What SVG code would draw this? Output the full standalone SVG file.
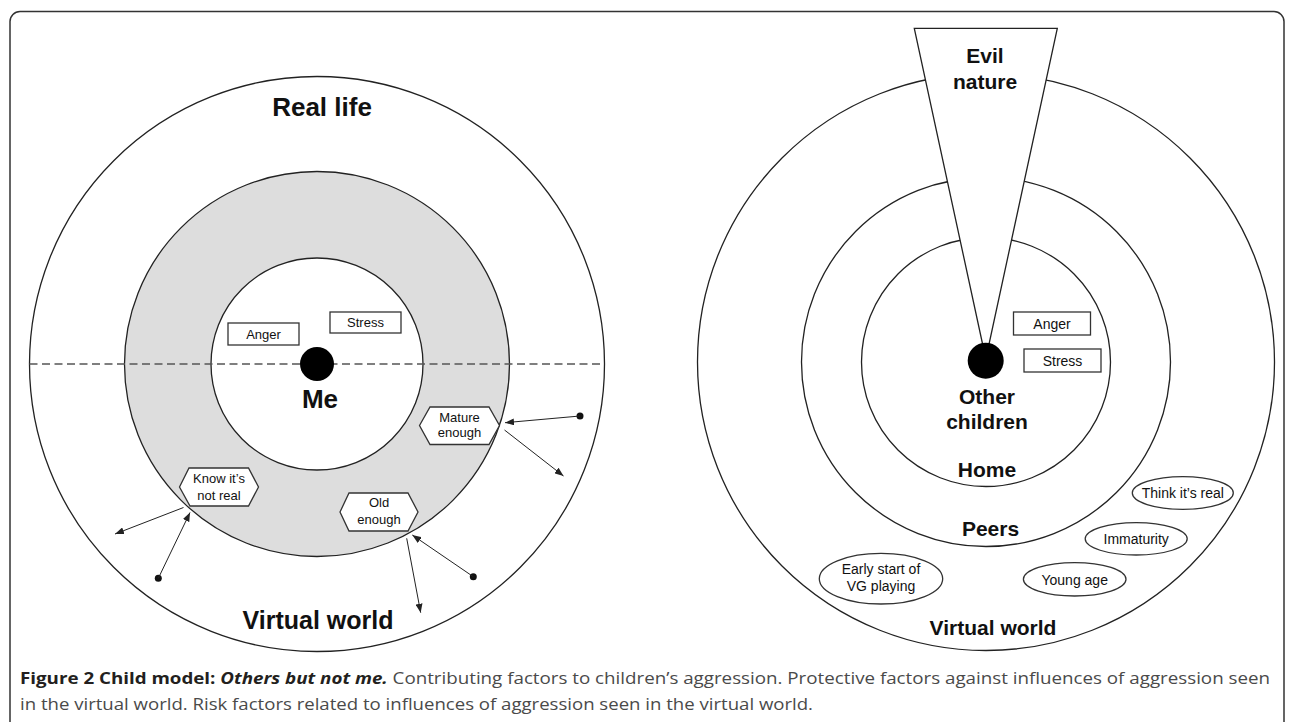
<svg xmlns="http://www.w3.org/2000/svg" width="1292" height="722" viewBox="0 0 1292 722">
<defs>
<style>
.ring{fill:none;stroke:#222;stroke-width:1.3}
.box{fill:#fff;stroke:#333;stroke-width:1.3}
.big{font-family:"Liberation Sans",Arial,sans-serif;font-weight:bold;fill:#111;text-anchor:middle}
.lbl{font-family:"Liberation Sans",Arial,sans-serif;fill:#111;text-anchor:middle}
.arr{stroke:#222;stroke-width:1;fill:none;marker-end:url(#ah)}
.cap{font-family:"Open Sans","Liberation Sans",sans-serif;font-size:16px;fill:#4a4a4a}
</style>
<marker id="ah" markerUnits="userSpaceOnUse" markerWidth="9" markerHeight="7" refX="9" refY="3.5" orient="auto">
<path d="M0,0 L9,3.5 L0,7 z" fill="#222"/>
</marker>
</defs>
<rect x="0" y="0" width="1292" height="722" fill="#fff"/>
<rect x="10" y="11.5" width="1274" height="730" rx="10" ry="10" fill="none" stroke="#333" stroke-width="1.5"/>

<g id="left-model">
<circle id="real-life-circle" class="ring" cx="317" cy="364" r="287.5"/>
<circle id="protective-ring" cx="317" cy="364" r="192.5" fill="#dddddd" stroke="#222" stroke-width="1.3"/>
<circle id="me-circle" cx="317" cy="364" r="106" fill="#fff" stroke="#222" stroke-width="1.3"/>
<line id="divider" x1="29.5" y1="364" x2="604.5" y2="364" stroke="#555" stroke-width="1.3" stroke-dasharray="8,4.5"/>
<circle id="me-dot" cx="317" cy="364" r="17" fill="#000"/>
<text class="big" x="322" y="115.5" font-size="26">Real life</text>
<text class="big" x="320" y="408" font-size="26">Me</text>
<text class="big" x="318" y="629" font-size="25">Virtual world</text>
</g>

<g id="left-anger">
<rect class="box" x="228" y="323" width="71" height="22"/>
<text class="lbl" x="263.5" y="338.5" font-size="13">Anger</text>
</g>
<g id="left-stress">
<rect class="box" x="330" y="312" width="71" height="21"/>
<text class="lbl" x="365.5" y="327" font-size="13">Stress</text>
</g>
<g id="mature-enough">
<polygon class="box" points="419.5,425.5 430,407 489,407 499.5,425.5 489,444.5 430,444.5"/>
<text class="lbl" x="459.5" y="421.5" font-size="13">Mature</text>
<text class="lbl" x="459.5" y="437" font-size="13">enough</text>
</g>
<g id="know-not-real">
<polygon class="box" points="179.5,487 189,468 248.5,468 258.5,487 248.5,506 190,506"/>
<text class="lbl" x="219" y="483" font-size="13">Know it’s</text>
<text class="lbl" x="219" y="499.5" font-size="13">not real</text>
</g>
<g id="old-enough">
<polygon class="box" points="340,512 349,493 408,493 418,512 408,531 349,531"/>
<text class="lbl" x="379" y="507" font-size="13">Old</text>
<text class="lbl" x="379" y="523.5" font-size="13">enough</text>
</g>

<g id="connectors">
<circle cx="580" cy="416" r="3.5" fill="#111"/>
<line class="arr" x1="580" y1="416" x2="505" y2="422.7"/>
<line class="arr" x1="504.5" y1="430" x2="563.5" y2="476"/>
<line class="arr" x1="183.5" y1="507.5" x2="115" y2="534"/>
<circle cx="158.3" cy="578.3" r="3.5" fill="#111"/>
<line class="arr" x1="158.3" y1="578.3" x2="190" y2="512.5"/>
<circle cx="473.3" cy="576.7" r="3.5" fill="#111"/>
<line class="arr" x1="473.3" y1="576.7" x2="412.3" y2="535"/>
<line class="arr" x1="406.7" y1="538.3" x2="420.7" y2="612.7"/>
</g>

<g id="right-model">
<circle id="vw-circle" class="ring" cx="986" cy="362" r="288.5"/>
<circle id="peers-circle" class="ring" cx="986" cy="362" r="184.5"/>
<circle id="home-circle" class="ring" cx="986" cy="362" r="124.5"/>
<polygon id="evil-nature" points="914.3,28.3 1057.3,28.3 985.8,359" fill="#fff" stroke="#222" stroke-width="1.3" stroke-linejoin="miter"/>
<circle id="others-dot" cx="985.7" cy="360.7" r="18" fill="#000"/>
<text class="big" x="985" y="62.5" font-size="21">Evil</text>
<text class="big" x="985" y="88.5" font-size="21">nature</text>
<text class="big" x="987" y="403.5" font-size="21">Other</text>
<text class="big" x="987" y="428.5" font-size="21">children</text>
<text class="big" x="987" y="476.5" font-size="21">Home</text>
<text class="big" x="990.5" y="535.5" font-size="21">Peers</text>
<text class="big" x="993" y="635" font-size="21">Virtual world</text>
</g>

<g id="right-anger">
<rect class="box" x="1013.5" y="312" width="77" height="23"/>
<text class="lbl" x="1052" y="328.5" font-size="14">Anger</text>
</g>
<g id="right-stress">
<rect class="box" x="1024" y="349" width="77" height="23"/>
<text class="lbl" x="1062.5" y="365.5" font-size="14">Stress</text>
</g>
<g id="think-real">
<ellipse class="box" cx="1182.8" cy="493" rx="50.5" ry="16.3"/>
<text class="lbl" x="1182.8" y="498" font-size="14">Think it’s real</text>
</g>
<g id="immaturity">
<ellipse class="box" cx="1136.2" cy="538.8" rx="51" ry="16.2"/>
<text class="lbl" x="1136.2" y="544" font-size="14">Immaturity</text>
</g>
<g id="young-age">
<ellipse class="box" cx="1074.7" cy="579.3" rx="51.3" ry="16.7"/>
<text class="lbl" x="1074.7" y="584.5" font-size="14">Young age</text>
</g>
<g id="early-start">
<ellipse class="box" cx="881" cy="578.7" rx="61.7" ry="25.3"/>
<text class="lbl" x="881" y="574" font-size="14">Early start of</text>
<text class="lbl" x="881" y="591" font-size="14">VG playing</text>
</g>

<g id="caption">
<text class="cap" x="20" y="683.5" textLength="1250" lengthAdjust="spacingAndGlyphs"><tspan font-weight="bold" fill="#231f20">Figure 2 Child model: </tspan><tspan font-weight="bold" font-style="italic" fill="#231f20">Others but not me.</tspan> Contributing factors to children’s aggression. Protective factors against influences of aggression seen</text>
<text class="cap" x="20" y="709.5" textLength="793" lengthAdjust="spacingAndGlyphs">in the virtual world. Risk factors related to influences of aggression seen in the virtual world.</text>
</g>
</svg>
